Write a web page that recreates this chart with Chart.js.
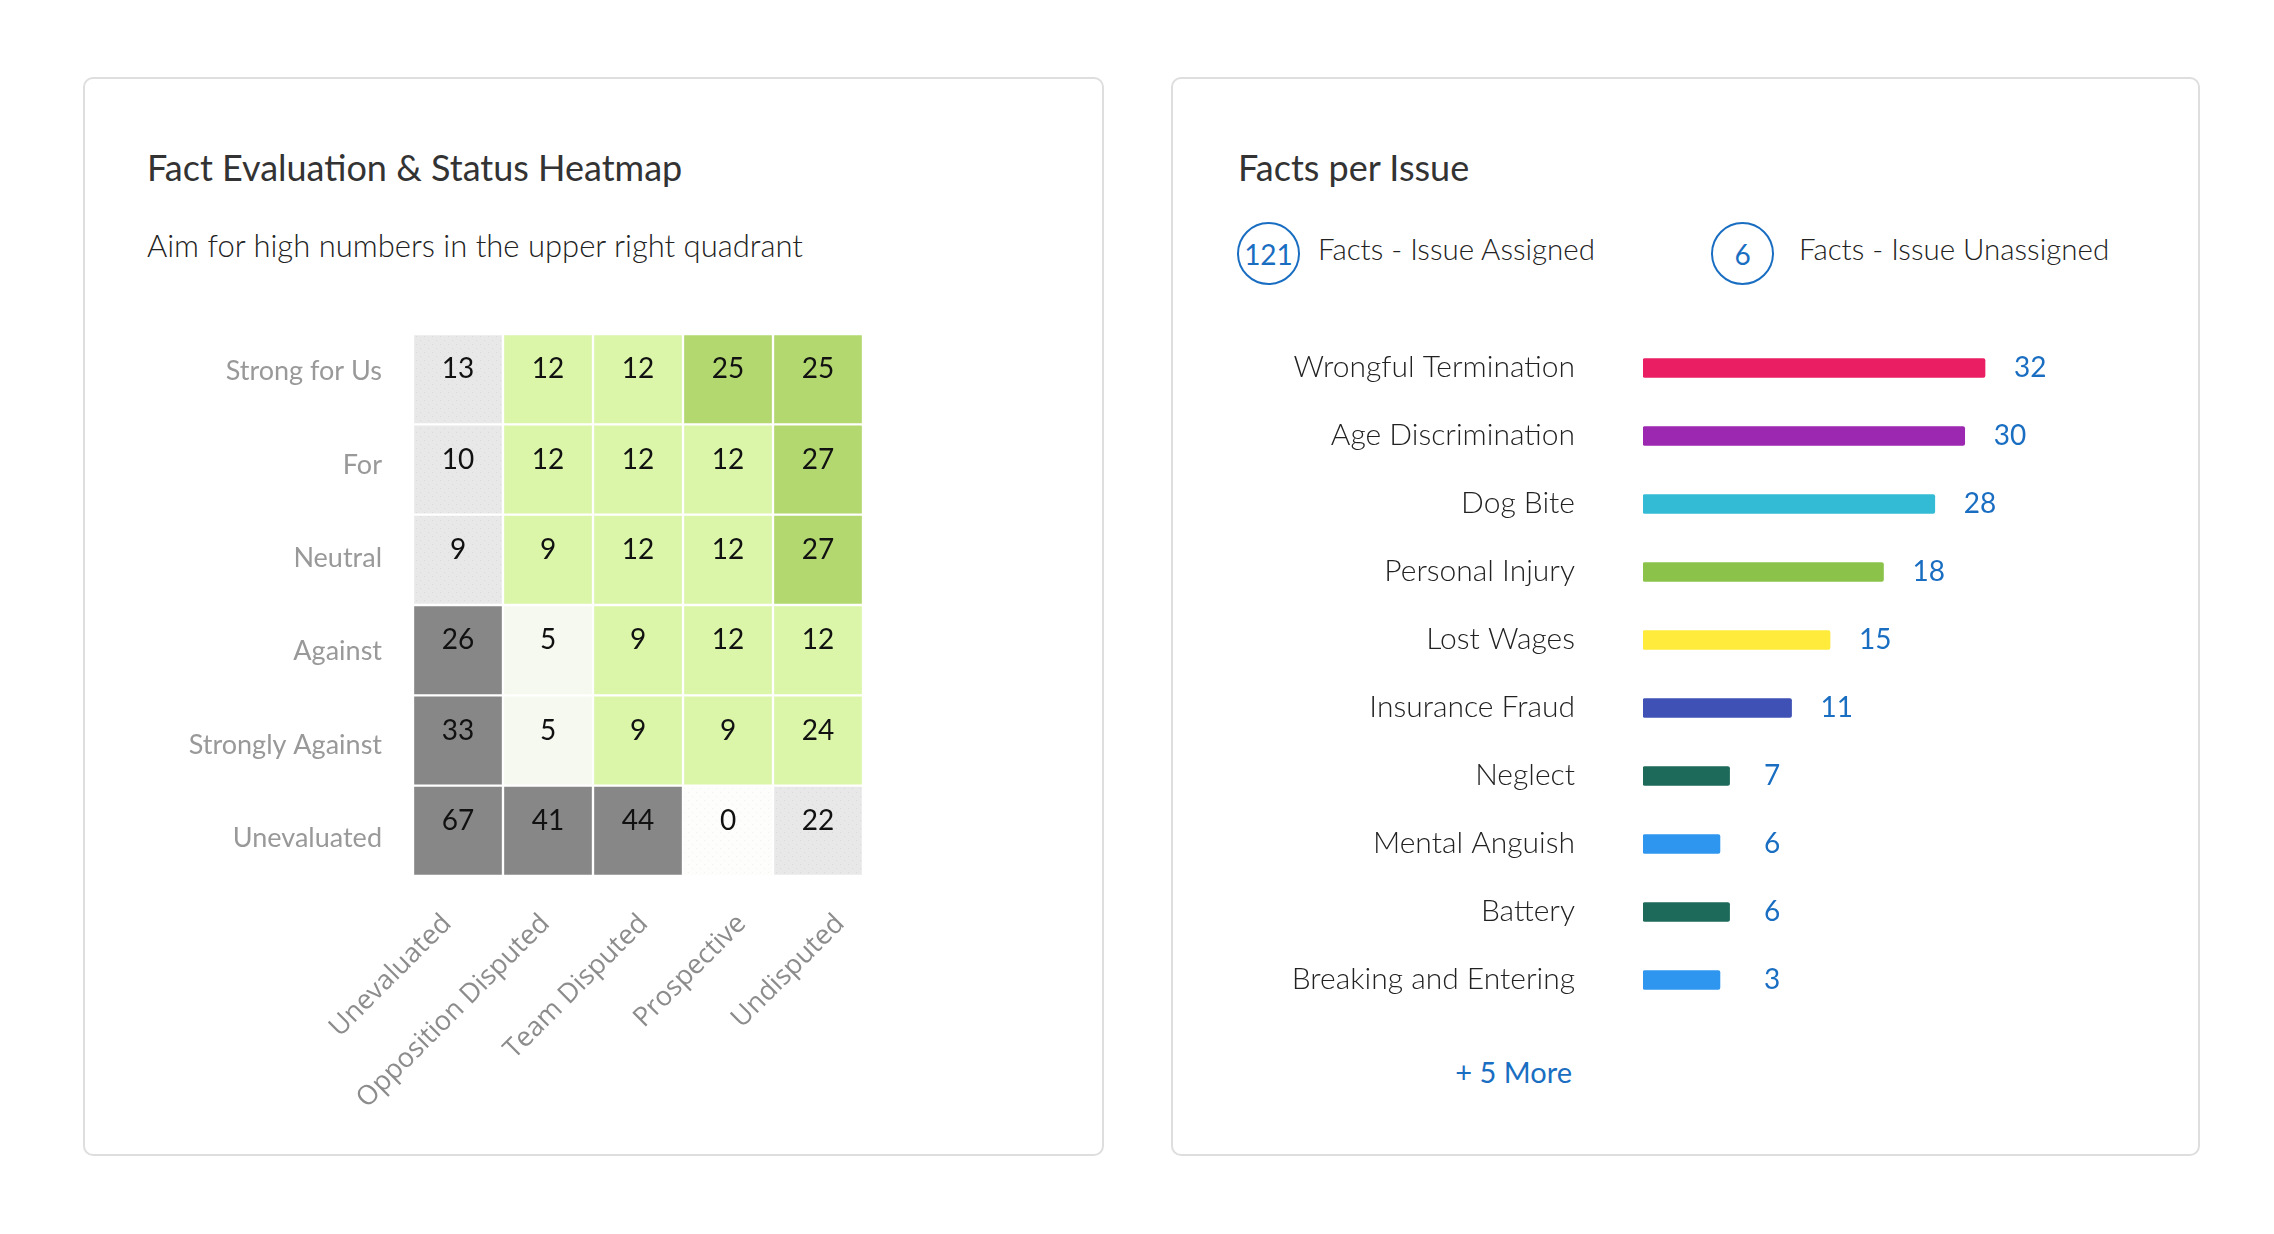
<!DOCTYPE html>
<html>
<head>
<meta charset="utf-8">
<title>Fact Evaluation &amp; Facts per Issue</title>
<script src="https://cdn.jsdelivr.net/npm/chart.js@4.4.1/dist/chart.umd.min.js"></script>
<style>
  html, body { margin: 0; padding: 0; background: #fff; }
  body { width: 2274px; height: 1234px; position: relative; overflow: hidden; font-family: 'Lato', 'Noto Sans', sans-serif; }
  .panel { position: absolute; top: 77px; height: 1079px; box-sizing: border-box; border: 2px solid #dedede; border-radius: 10px; background: #fff; }
  #heatPanel { left: 83px; width: 1021px; }
  #issuePanel { left: 1171px; width: 1029px; }
  .txt { position: absolute; white-space: nowrap; line-height: 1; }
  .title { font-size: 36px; color: #333; top: 149px; }
  .sub { font-size: 31px; font-weight: 300; color: #222; top: 230px; left: 147px; }
  .legend { font-size: 29.5px; font-weight: 300; color: #222; top: 234px; }
  .badge { position: absolute; top: 222px; width: 63px; height: 63px; box-sizing: border-box; border: 2px solid #1a6ec2;
           border-radius: 50%; display: flex; align-items: center; justify-content: center; font-size: 28px; line-height: 1; color: #1a6ec2; }
  .more { font-size: 29px; color: #1a6ec2; top: 1057px; right: 702px; }
  canvas { position: absolute; }
  #heatCanvas { left: 100px; top: 300px; }
  #issueCanvas { left: 1180px; top: 300px; }
</style>
</head>
<body>
<div class="panel" id="heatPanel"></div>
<div class="panel" id="issuePanel"></div>

<div class="txt title" style="left:147px">Fact Evaluation &amp; Status Heatmap</div>
<div class="txt sub">Aim for high numbers in the upper right quadrant</div>

<div class="txt title" style="left:1238px">Facts per Issue</div>
<div class="badge" id="assignedBadge" style="left:1237px"></div>
<div class="txt legend" style="left:1318px">Facts - Issue Assigned</div>
<div class="badge" id="unassignedBadge" style="left:1711px"></div>
<div class="txt legend" style="left:1799px">Facts - Issue Unassigned</div>
<div class="txt more" id="moreLink"></div>

<canvas id="heatCanvas" width="820" height="840"></canvas>
<canvas id="issueCanvas" width="976" height="740"></canvas>

<script>
// ---- heatmap data: one array per evaluation row, one value per status column
const evalRows = ['Strong for Us', 'For', 'Neutral', 'Against', 'Strongly Against', 'Unevaluated'];
const statusCols = ['Unevaluated', 'Opposition Disputed', 'Team Disputed', 'Prospective', 'Undisputed'];
const strongForUs = [13, 12, 12, 25, 25];
const forUs = [10, 12, 12, 12, 27];
const neutral = [9, 9, 12, 12, 27];
const against = [26, 5, 9, 12, 12];
const stronglyAgainst = [33, 5, 9, 9, 24];
const unevaluated = [67, 41, 44, 0, 22];

// ---- facts per issue
const issues = ['Wrongful Termination', 'Age Discrimination', 'Dog Bite', 'Personal Injury', 'Lost Wages',
                'Insurance Fraud', 'Neglect', 'Mental Anguish', 'Battery', 'Breaking and Entering'];
const issueCounts = [32, 30, 28, 18, 15, 11, 7, 6, 6, 3];
// bar lengths as drawn in the picture (they do not follow the printed counts exactly)
const barLengths = [32, 30.1, 27.3, 22.5, 17.5, 13.9, 8.1, 7.2, 8.1, 7.2];
const factsAssigned = 121;
const factsUnassigned = 6;
const moreIssues = 5;

const issueColors = ['#e91e63', '#9c27b0', '#33bbd5', '#8bc34a', '#ffeb3b',
                     '#3f51b5', '#1d6a5b', '#2f96f0', '#1d6a5b', '#2f96f0'];

document.getElementById('assignedBadge').textContent = factsAssigned;
document.getElementById('unassignedBadge').textContent = factsUnassigned;
document.getElementById('moreLink').textContent = '+ ' + moreIssues + ' More';

Chart.defaults.font.family = "'Lato', 'Noto Sans', sans-serif";

// invisible tick marks give the label gap without padding the chart area
const spacer = len => ({ display: true, drawOnChartArea: false, drawTicks: true, tickLength: len, color: 'rgba(0,0,0,0)' });

// dotted fill used by the grey "neutral" tiles
function dotPattern(base, dot) {
    const c = document.createElement('canvas');
    c.width = 8; c.height = 8;
    const g = c.getContext('2d');
    g.fillStyle = base;
    g.fillRect(0, 0, 8, 8);
    g.fillStyle = dot;
    g.fillRect(0, 0, 1, 1);
    g.fillRect(4, 4, 1, 1);
    return g.createPattern(c, 'repeat');
}
const greyDots = dotPattern('#e8e8e8', '#dadada');
const whiteDots = dotPattern('#fdfdfb', '#f1f1ee');

// unevaluated row / column uses greys, the rest a green ramp
function cellColor(row, col, v) {
    const unrated = row === evalRows.length - 1 || col === 0;
    if (v === 0) return whiteDots;
    if (unrated) return v >= 25 ? '#878787' : greyDots;
    if (v <= 5) return '#f6f9ef';
    return v >= 25 ? '#b2d86f' : '#dbf6a9';
}

const cellValues = {
    id: 'cellValues',
    afterDatasetsDraw(chart) {
        const ctx = chart.ctx;
        ctx.save();
        ctx.font = "28px 'Lato'";
        ctx.fillStyle = '#111';
        ctx.textAlign = 'center';
        ctx.textBaseline = 'middle';
        chart.data.datasets.forEach((ds, i) => {
            chart.getDatasetMeta(i).data.forEach((bar, j) => {
                ctx.fillText(ds.counts[j], bar.x, (bar.y + bar.base) / 2 - 10);
            });
        });
        ctx.restore();
    }
};

const heatRows = [strongForUs, forUs, neutral, against, stronglyAgainst, unevaluated];
// every tile is one unit tall; stacking starts from the bottom row
const heatDatasets = heatRows.map((vals, r) => ({
    label: evalRows[r],
    data: vals.map(() => 1),
    counts: vals,
    backgroundColor: ctx => cellColor(r, ctx.dataIndex, vals[ctx.dataIndex]),
    borderColor: '#fff',
    borderWidth: 1.5,
    borderSkipped: false,
    barPercentage: 1,
    categoryPercentage: 1
})).reverse();

new Chart(document.getElementById('heatCanvas'), {
    type: 'bar',
    data: { labels: statusCols, datasets: heatDatasets },
    options: {
        responsive: false,
        animation: false,
        layout: { padding: { top: 34, right: 57, bottom: 0, left: 0 } },
        plugins: { legend: { display: false }, tooltip: { enabled: false } },
        scales: {
            x: { stacked: true, display: false },
            y: { stacked: true, display: false, min: 0, max: evalRows.length },
            // column names fan out a little wider than the tiles, as in the original
            xCols: {
                axis: 'x',
                type: 'linear',
                position: 'bottom',
                offset: false,
                min: 0,
                max: 4.58,
                afterBuildTicks: s => { s.ticks = statusCols.map((_, i) => ({ value: i + 0.5 })); },
                grid: { display: false },
                border: { display: false },
                ticks: {
                    autoSkip: false, minRotation: 45, maxRotation: 45, padding: 24, labelOffset: -15,
                    color: '#8c8c8c', font: { family: "'Open Sans'", size: 27 },
                    callback: v => statusCols[Math.floor(v)]
                },
                afterFit: s => { s.height = 264; }
            },
            // row names sit on a slightly wider spread than the tiles
            yRows: {
                axis: 'y',
                type: 'linear',
                position: 'left',
                offset: false,
                min: 0.1,
                max: evalRows.length - 0.1,
                afterBuildTicks: s => { s.ticks = evalRows.map((_, i) => ({ value: i + 0.5 })); },
                grid: spacer(31),
                border: { display: false },
                ticks: {
                    autoSkip: false, padding: 0, color: '#999', font: { size: 27 },
                    callback: v => evalRows[evalRows.length - 1 - Math.floor(v)]
                },
                afterFit: s => { s.width = 313; }
            }
        }
    },
    plugins: [cellValues]
});

const countLabels = {
    id: 'countLabels',
    afterDatasetsDraw(chart) {
        const ctx = chart.ctx;
        const ds = chart.data.datasets[0];
        const minX = chart.chartArea.left + 121;
        ctx.save();
        ctx.font = "28px 'Lato'";
        ctx.fillStyle = '#1a6ec2';
        ctx.textAlign = 'left';
        ctx.textBaseline = 'middle';
        chart.getDatasetMeta(0).data.forEach((bar, i) => {
            ctx.fillText(ds.counts[i], Math.max(bar.x + 29, minX), bar.y);
        });
        ctx.restore();
    }
};

new Chart(document.getElementById('issueCanvas'), {
    type: 'bar',
    data: {
        labels: issues,
        datasets: [{
            data: barLengths,
            counts: issueCounts,
            backgroundColor: issueColors,
            barThickness: 19,
            borderRadius: 2,
            borderSkipped: false
        }]
    },
    options: {
        indexAxis: 'y',
        responsive: false,
        animation: false,
        layout: { padding: { top: 34, right: 0, bottom: 26, left: 0 } },
        plugins: { legend: { display: false }, tooltip: { enabled: false } },
        scales: {
            x: { display: false, min: 0, max: 48 },
            y: {
                grid: spacer(68),
                border: { display: false },
                ticks: { color: '#222', font: { size: 30, weight: 300 }, padding: 0, labelOffset: -1 },
                afterFit: s => { s.width = 463; }
            }
        }
    },
    plugins: [countLabels]
});
</script>
</body>
</html>
